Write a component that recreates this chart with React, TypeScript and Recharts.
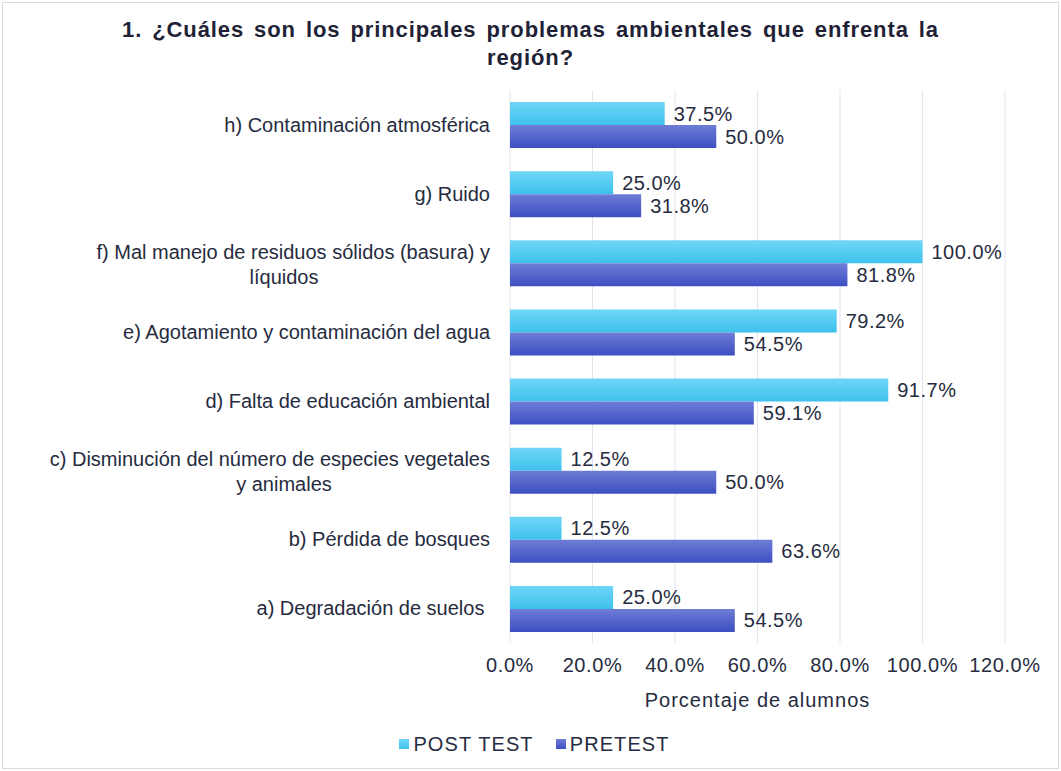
import React from 'react';
import { BarChart, Bar, XAxis, YAxis, CartesianGrid, Legend, LabelList } from 'recharts';

const categories = [
  'h) Contaminación atmosférica',
  'g) Ruido',
  'f) Mal manejo de residuos sólidos (basura) y\nlíquidos',
  'e) Agotamiento y contaminación del agua',
  'd) Falta de educación ambiental',
  'c) Disminución del número de especies vegetales\ny animales',
  'b) Pérdida de bosques',
  'a) Degradación de suelos ',
];
const postTest = [37.5, 25.0, 100.0, 79.2, 91.7, 12.5, 12.5, 25.0];
const preTest = [50.0, 31.8, 81.8, 54.5, 59.1, 50.0, 63.6, 54.5];
const xTicks = [0, 20, 40, 60, 80, 100, 120];

const FONT = '"Liberation Sans", Arial, sans-serif';
const TEXT = '#262b40';

const chartData = categories.map((name, i) => ({ name, post: postTest[i], pre: preTest[i] }));

const pct = (v: any) => `${Number(v).toFixed(1)}%`;

// wrapped category labels: first line right aligned, second line centred like Excel
const CategoryTick = (props: any) => {
  const { x, y, payload } = props;
  const lines = String(payload.value).split('\n');
  if (lines.length === 1) {
    return (
      <text x={x - 12} y={y} dy="0.35em" textAnchor="end" fontSize={20} fill={TEXT} fontFamily={FONT} style={{ whiteSpace: 'pre' }}>
        {lines[0]}
      </text>
    );
  }
  return (
    <g>
      <text x={x - 12} y={y - 11} dy="0.35em" textAnchor="end" fontSize={20} fill={TEXT} fontFamily={FONT}>
        {lines[0]}
      </text>
      <text x={x - 218} y={y + 14} dy="0.35em" textAnchor="middle" fontSize={20} fill={TEXT} fontFamily={FONT}>
        {lines[1]}
      </text>
    </g>
  );
};

const LegendContent = () => (
  <div style={{ height: 44, paddingTop: 18, boxSizing: 'border-box', display: 'flex', justifyContent: 'center', fontFamily: FONT, fontSize: 20, letterSpacing: 1.1, color: TEXT, paddingLeft: 64 }}>
    <span style={{ display: 'flex', alignItems: 'center', marginRight: 22 }}>
      <span style={{ width: 10, height: 10, background: 'linear-gradient(#6fd6f8, #3ec1eb)', marginRight: 4 }} />
      POST TEST
    </span>
    <span style={{ display: 'flex', alignItems: 'center' }}>
      <span style={{ width: 10, height: 10, background: 'linear-gradient(#6e7dd6, #3d4fc2)', marginRight: 4 }} />
      PRETEST
    </span>
  </div>
);

const App: React.FC = () => {
  return (
    <div style={{ position: 'absolute', left: 0, top: 0, width: 1061, height: 771, background: '#fff' }}>
      <div style={{ position: 'absolute', left: 2, top: 2, width: 1055, height: 765, border: '1px solid #d9d9d9' }} />
      <div
        style={{
          position: 'absolute', left: 0, top: 16, width: 1061, textAlign: 'center',
          fontFamily: FONT, fontWeight: 'bold', fontSize: 22, lineHeight: '28px', color: '#1f2236',
          letterSpacing: 0.9, wordSpacing: 3,
        }}
      >
        1. ¿Cuáles son los principales problemas ambientales que enfrenta la
        <br />
        región?
      </div>
      <div style={{ position: 'absolute', left: 0, top: 0 }}>
        <BarChart
          width={1061}
          height={771}
          data={chartData}
          layout="vertical"
          margin={{ top: 90, right: 56, left: 0, bottom: 14 }}
          barSize={23}
          barGap={0}
        >
          <defs>
            <linearGradient id="gPost" x1="0" y1="0" x2="0" y2="1">
              <stop offset="0%" stopColor="#6fd6f8" />
              <stop offset="100%" stopColor="#3ec1eb" />
            </linearGradient>
            <linearGradient id="gPre" x1="0" y1="0" x2="0" y2="1">
              <stop offset="0%" stopColor="#6e7dd6" />
              <stop offset="100%" stopColor="#3d4fc2" />
            </linearGradient>
          </defs>
          <CartesianGrid horizontal={false} stroke="#e3e3ef" />
          <XAxis
            type="number"
            domain={[0, 120]}
            ticks={xTicks}
            tickFormatter={pct}
            axisLine={false}
            tickLine={false}
            tickMargin={9}
            height={70}
            tick={{ fontSize: 20, fill: TEXT, fontFamily: FONT, letterSpacing: 0.6 }}
            label={{ value: 'Porcentaje de alumnos', position: 'insideBottom', offset: 6, fontSize: 20, fill: TEXT, fontFamily: FONT, letterSpacing: 1 }}
          />
          <YAxis
            type="category"
            dataKey="name"
            width={510}
            axisLine={false}
            tickLine={false}
            tick={<CategoryTick />}
            interval={0}
          />
          <Legend verticalAlign="bottom" content={<LegendContent />} />
          <Bar dataKey="post" name="POST TEST" fill="url(#gPost)" isAnimationActive={false}>
            <LabelList dataKey="post" position="right" offset={9} formatter={pct} fontSize={20} fill={TEXT} fontFamily={FONT} letterSpacing={0.5} />
          </Bar>
          <Bar dataKey="pre" name="PRETEST" fill="url(#gPre)" isAnimationActive={false}>
            <LabelList dataKey="pre" position="right" offset={9} formatter={pct} fontSize={20} fill={TEXT} fontFamily={FONT} letterSpacing={0.5} />
          </Bar>
        </BarChart>
      </div>
    </div>
  );
};

export default App;
